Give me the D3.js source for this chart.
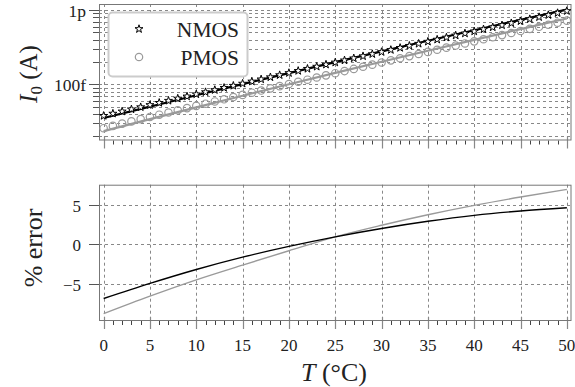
<!DOCTYPE html>
<html>
<head>
<meta charset="utf-8">
<script src="https://cdn.jsdelivr.net/npm/d3@7"></script>
<style>
  body { margin: 0; background: #fff; }
  text { font-family: "Liberation Serif", "DejaVu Serif", serif; fill: #222; }
</style>
</head>
<body>
<svg width="575" height="387"></svg>
<script>
// simulated points, one per degree C
var tempPts = d3.range(0, 51);
// I0 in fA
var nmosPts = [37.7, 40.4, 43.2, 46.1, 49.3, 52.7, 56.4, 60.2, 64.4, 68.8,
  73.5, 78.6, 83.9, 89.7, 95.8, 102.3, 109.3, 116.8, 124.7, 133.1,
  142.1, 151.8, 162.0, 173.0, 184.6, 197.0, 210.2, 224.3, 239.3, 255.3,
  272.3, 290.4, 309.7, 330.3, 352.2, 375.4, 400.4, 426.6, 454.7, 484.5,
  516.3, 550.2, 586.1, 624.3, 665.1, 708.3, 754.5, 803.5, 855.4, 910.7, 969.4];
var pmosPts = [25.7, 27.6, 29.6, 31.7, 34.0, 36.4, 39.0, 41.7, 44.7, 47.9,
  51.3, 54.9, 58.8, 62.9, 67.4, 72.1, 77.2, 82.5, 88.3, 94.5,
  101.0, 108.1, 115.5, 123.5, 132.0, 141.1, 150.8, 161.2, 172.3, 184.1,
  196.7, 210.1, 224.5, 239.7, 256.0, 273.3, 291.8, 311.5, 332.5, 354.9,
  378.6, 404.1, 431.0, 459.7, 490.5, 523.0, 557.6, 594.3, 633.6, 675.2, 719.5];

// model curves, every 5 degrees
var tempModel = [0, 5, 10, 15, 20, 25, 30, 35, 40, 45, 50];
var nmosModel = [35.2, 50.1, 71.2, 100.7, 141.8, 198.9, 277.7, 386.3, 535.0, 738.2, 1014];
var pmosModel = [23.5, 34.0, 49.0, 70.2, 100.2, 142.4, 201.4, 283.5, 397.2, 553.9, 769.1];

// percent error of the model
var nmosErr = [-6.8, -4.9, -3.15, -1.6, -0.25, 0.95, 2.0, 2.9, 3.65, 4.2, 4.6];
var pmosErr = [-8.7, -6.5, -4.45, -2.6, -0.8, 0.95, 2.4, 3.72, 4.9, 5.95, 6.9];

var xTicks = [0, 5, 10, 15, 20, 25, 30, 35, 40, 45, 50];
var currentTicks = [100, 1000];
var currentLabels = ["100f", "1p"];
var errTicks = [-5, 0, 5];

var svg = d3.select("svg");
var gridColor = "#888", frameColor = "#777", gray = "#9a9a9a";

var x = d3.scaleLinear().domain([-0.5, 50.5]).range([99, 571.5]);
var yTop = d3.scaleLog().domain([18.1, 1205]).range([139.5, 4]);
var yBot = d3.scaleLinear().domain([-9.5, 7.5]).range([320, 184.7]);

function panel(y, hGrid) {
  var top = y.range()[1], bottom = y.range()[0];
  var g = svg.append("g");
  // grid
  g.selectAll(".hg").data(hGrid).enter().append("line")
    .attr("x1", x.range()[0]).attr("x2", x.range()[1])
    .attr("y1", function(d) { return Math.round(y(d)) + 0.5; })
    .attr("y2", function(d) { return Math.round(y(d)) + 0.5; })
    .attr("stroke", gridColor).attr("stroke-dasharray", "3,3");
  g.selectAll(".vg").data(xTicks).enter().append("line")
    .attr("y1", top).attr("y2", bottom)
    .attr("x1", function(d) { return Math.round(x(d)) + 0.5; })
    .attr("x2", function(d) { return Math.round(x(d)) + 0.5; })
    .attr("stroke", gridColor).attr("stroke-dasharray", "3,3");
  // x ticks below frame
  g.selectAll(".xm").data(x.ticks(50)).enter().append("line")
    .attr("x1", function(d) { return Math.round(x(d)) + 0.5; })
    .attr("x2", function(d) { return Math.round(x(d)) + 0.5; })
    .attr("y1", bottom + 1).attr("y2", bottom + 5)
    .attr("stroke", "#444");
  g.selectAll(".xM").data(xTicks).enter().append("line")
    .attr("x1", function(d) { return Math.round(x(d)) + 0.5; })
    .attr("x2", function(d) { return Math.round(x(d)) + 0.5; })
    .attr("y1", bottom - 3).attr("y2", bottom + 9)
    .attr("stroke", "#888").attr("stroke-width", 1.2);
  // frame
  g.append("rect")
    .attr("x", x.range()[0] + 0.5).attr("y", top + 0.5)
    .attr("width", x.range()[1] - x.range()[0] - 1)
    .attr("height", bottom - top)
    .attr("fill", "none").attr("stroke", frameColor);
  return g;
}

// ---- top panel ----
var gTop = panel(yTop, yTop.ticks());
gTop.selectAll(".ym").data(yTop.ticks()).enter().append("line")
  .attr("x1", 93).attr("x2", 99)
  .attr("y1", function(d) { return Math.round(yTop(d)) + 0.5; })
  .attr("y2", function(d) { return Math.round(yTop(d)) + 0.5; })
  .attr("stroke", "#555");
gTop.selectAll(".yM").data(currentTicks).enter().append("line")
  .attr("x1", 89).attr("x2", 99)
  .attr("y1", function(d) { return Math.round(yTop(d)) + 0.5; })
  .attr("y2", function(d) { return Math.round(yTop(d)) + 0.5; })
  .attr("stroke", "#555");
gTop.selectAll(".yl").data(currentTicks).enter().append("text")
  .attr("x", 86).attr("y", function(d) { return yTop(d) + 1; })
  .attr("dy", "0.35em").attr("text-anchor", "end")
  .attr("font-size", 17.5)
  .text(function(d, i) { return currentLabels[i]; });

var lineTop = d3.line()
  .x(function(d, i) { return x(tempModel[i]); })
  .y(function(d) { return yTop(d); })
  .curve(d3.curveMonotoneX);

gTop.append("path").datum(pmosModel).attr("d", lineTop)
  .attr("fill", "none").attr("stroke", gray).attr("stroke-width", 2.2);
gTop.selectAll(".pc").data(pmosPts).enter().append("circle")
  .attr("cx", function(d, i) { return x(tempPts[i]); })
  .attr("cy", function(d) { return yTop(d); })
  .attr("r", 3.7).attr("fill", "none")
  .attr("stroke", gray).attr("stroke-width", 1.2);
gTop.append("path").datum(nmosModel).attr("d", lineTop)
  .attr("fill", "none").attr("stroke", "#000").attr("stroke-width", 2.2);
var star = d3.symbol().type(d3.symbolStar).size(20);
gTop.selectAll(".ns").data(nmosPts).enter().append("path")
  .attr("d", star)
  .attr("transform", function(d, i) { return "translate(" + x(tempPts[i]) + "," + yTop(d) + ")"; })
  .attr("fill", "#fff").attr("stroke", "#000").attr("stroke-width", 1);

// legend
var leg = svg.append("g");
leg.append("rect").attr("x", 108.5).attr("y", 12.5).attr("width", 139).attr("height", 64)
  .attr("rx", 4).attr("fill", "#fff").attr("stroke", "#ccc").attr("stroke-width", 2);
leg.append("path").attr("d", star).attr("transform", "translate(139,29)")
  .attr("fill", "#fff").attr("stroke", "#000");
leg.append("circle").attr("cx", 139).attr("cy", 57).attr("r", 3.7)
  .attr("fill", "none").attr("stroke", gray).attr("stroke-width", 1.2);
leg.append("text").attr("x", 239).attr("y", 36.5).attr("text-anchor", "end")
  .attr("font-size", 21.5).text("NMOS");
leg.append("text").attr("x", 239).attr("y", 64.5).attr("text-anchor", "end")
  .attr("font-size", 21.5).text("PMOS");

// y title top
svg.append("text")
  .attr("transform", "translate(37,74) rotate(-90)")
  .attr("text-anchor", "middle").attr("font-size", 25)
  .call(function(t) {
    t.append("tspan").attr("font-style", "italic").text("I");
    t.append("tspan").attr("font-size", 17).attr("dy", 5).text("0");
    t.append("tspan").attr("dy", -5).text(" (A)");
  });

// ---- bottom panel ----
var gBot = panel(yBot, errTicks);
gBot.selectAll(".yM").data(errTicks).enter().append("line")
  .attr("x1", 89).attr("x2", 99)
  .attr("y1", function(d) { return Math.round(yBot(d)) + 0.5; })
  .attr("y2", function(d) { return Math.round(yBot(d)) + 0.5; })
  .attr("stroke", "#555");
gBot.selectAll(".yl").data(errTicks).enter().append("text")
  .attr("x", 81).attr("y", function(d) { return yBot(d) + 1; })
  .attr("dy", "0.35em").attr("text-anchor", "end")
  .attr("font-size", 17)
  .text(function(d) { return d < 0 ? "\u2212" + Math.abs(d) : d; });

var lineBot = d3.line()
  .x(function(d, i) { return x(tempModel[i]); })
  .y(function(d) { return yBot(d); })
  .curve(d3.curveMonotoneX);
gBot.append("path").datum(pmosErr).attr("d", lineBot)
  .attr("fill", "none").attr("stroke", gray).attr("stroke-width", 1.4);
gBot.append("path").datum(nmosErr).attr("d", lineBot)
  .attr("fill", "none").attr("stroke", "#000").attr("stroke-width", 1.4);

svg.append("text")
  .attr("transform", "translate(42,248) rotate(-90)")
  .attr("text-anchor", "middle").attr("font-size", 26)
  .text("% error");

// x labels
svg.selectAll(".xl").data(xTicks).enter().append("text")
  .attr("x", function(d) { return x(d); }).attr("y", 351)
  .attr("text-anchor", "middle").attr("font-size", 17)
  .text(function(d) { return d; });
svg.append("text").attr("x", 334).attr("y", 381)
  .attr("text-anchor", "middle").attr("font-size", 26)
  .call(function(t) {
    t.append("tspan").attr("font-style", "italic").text("T");
    t.append("tspan").text(" (\u00B0C)");
  });
</script>
</body>
</html>
